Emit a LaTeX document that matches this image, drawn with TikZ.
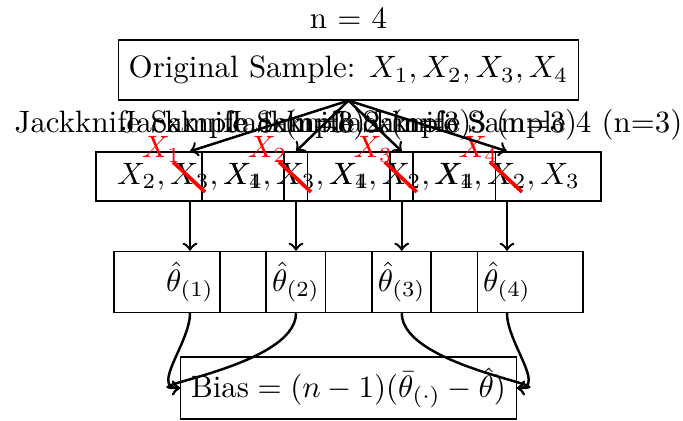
\documentclass[tikz,border=0pt]{standalone}
\usepackage{amsmath}
\begin{document}
\begin{tikzpicture}[x=0.3236pt,y=-0.3236pt,
  bigbox/.style={draw, minimum height=19.4pt},
  sbox/.style={draw, minimum width=60.8pt, minimum height=15.9pt},
  tbox/.style={draw, minimum width=49.2pt, minimum height=19.4pt},
  arr/.style={->, thick},
  lbl/.style={anchor=base},
  rlbl/.style={red, anchor=base},
  slash/.style={red, line width=1.2pt}]
\useasboundingbox (0,0) rectangle (683,421);

\node[anchor=base] (n) at (348.5,29) {n = 4};
\node[bigbox] (orig) at (348.5,70) {Original Sample: $X_1, X_2, X_3, X_4$};

\node[sbox] (s1) at (190,176.5) {$X_2, X_3, X_4$};
\node[sbox] (s2) at (296,176.5) {$X_1, X_3, X_4$};
\node[sbox] (s3) at (401.75,176.5) {$X_1, X_2, X_4$};
\node[sbox] (s4) at (507,176.5) {$X_1, X_2, X_3$};

\foreach \i in {1,...,4}{
  \node[lbl] (l\i) at ([shift={(0,-43.5)}]s\i.center) {Jackknife Sample \i\ (n=3)};
  \node[rlbl] (r\i) at ([shift={(-28.5,-18.5)}]s\i.center) {$X_\i$};
  \coordinate (a\i) at ([shift={(-17,-14.5)}]s\i.center);
  \coordinate (b\i) at ([shift={(15,15.5)}]s\i.center);
  \draw[slash] (a\i) -- (b\i);
  \draw[arr] (orig.south) -- (s\i.north);
}

\node[tbox] (t1) at (190,282) {$\hat{\theta}_{(1)}$};
\node[tbox] (t2) at (296,282) {$\hat{\theta}_{(2)}$};
\node[tbox] (t3) at (401.75,282) {$\hat{\theta}_{(3)}$};
\node[tbox] (t4) at (507,282) {$\hat{\theta}_{(4)}$};

\foreach \i in {1,...,4}{
  \draw[arr] (s\i.south) -- (t\i.north);
}

\node[draw, minimum height=20pt] (bias) at (348.5,388) {$\text{Bias} = (n-1)(\bar{\theta}_{(\cdot)} - \hat{\theta})$};

\draw[arr] (t1.south) to[out=-90,in=180] (bias.west);
\draw[arr] (t2.south) to[out=-90,in=180] (bias.west);
\draw[arr] (t3.south) to[out=-90,in=0] (bias.east);
\draw[arr] (t4.south) to[out=-90,in=0] (bias.east);
\end{tikzpicture}
\end{document}
